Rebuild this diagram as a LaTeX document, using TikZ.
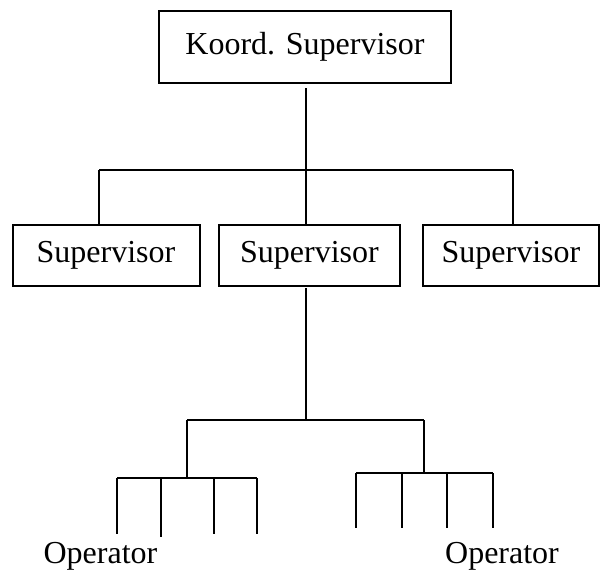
\documentclass[tikz,border=0pt]{standalone}
\usepackage{fontspec}
\setmainfont{Liberation Serif}
\usepackage{tikz}

\begin{document}
\begin{tikzpicture}[x=1pt,y=-1pt,line width=2pt,
  schrift/.style={font=\fontsize{32}{37}\selectfont},
  kasten/.style={draw,rectangle,schrift,inner sep=0pt,minimum height=61pt}]
\useasboundingbox (0,0) rectangle (601,571);

%Kästen
\node[kasten,minimum width=292pt,minimum height=72pt] (K) at (305,46.5) {Koord. Supervisor};
\node[kasten,minimum width=187pt] (S1) at (106,255.5) {Supervisor};
\node[kasten,minimum width=181pt] (S2) at (309.5,255.5) {Supervisor};
\node[kasten,minimum width=176pt] (S3) at (511,255.5) {Supervisor};

%Koordinaten für die Verzweigungen
\coordinate (k0) at (306,88);
\coordinate (l1) at (99,170);
\coordinate (r1) at (513,170);
\coordinate (m1) at (306,420);
\coordinate (a1) at (187,420);
\coordinate (b1) at (424,420);
\coordinate (a2) at (187,478);
\coordinate (b2) at (424,473);

\draw (k0) -- (k0 |- S2.north);
\draw (l1) -- (r1);
\draw (l1) -- (l1 |- S1.north);
\draw (r1) -- (r1 |- S3.north);

\draw ([yshift=-1pt]k0 |- S2.south) -- (m1);
\draw (a1) -- (b1);
\draw (a1) -- (a2);
\draw (b1) -- (b2);

%Operatoren links
\draw (117,478) -- (257,478);
\draw (117,478) -- (117,534) (161,478) -- (161,537)
      (214,478) -- (214,534) (257,478) -- (257,534);
%Operatoren rechts
\draw (356,473) -- (493,473);
\draw (356,473) -- (356,528) (402,473) -- (402,528)
      (447,473) -- (447,528) (493,473) -- (493,528);

\node[schrift,anchor=base] (O1) at (100.5,563) {Operator};
\node[schrift,anchor=base] (O2) at (502,563) {Operator};
\end{tikzpicture}
\end{document}
